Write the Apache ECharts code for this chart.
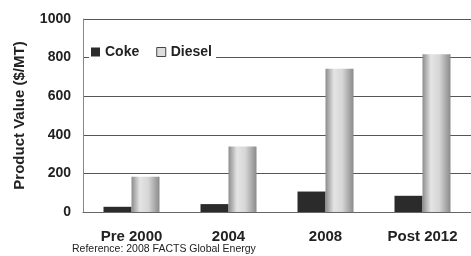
<!DOCTYPE html>
<html>
<head>
<meta charset="utf-8">
<script src="https://cdn.jsdelivr.net/npm/echarts@6/dist/echarts.min.js"></script>
<style>
    html, body { margin: 0; padding: 0; background: #fff; }
    #chart1 { width: 471px; height: 256px; }
</style>
</head>
<body>
<div id="chart1"></div>
<script>
var categories = ['Pre 2000', '2004', '2008', 'Post 2012'];
var cokeValues = [27, 41, 106, 84];
var dieselValues = [183, 339, 742, 818];
var yTicks = [0, 200, 400, 600, 800, 1000];

var myChart = echarts.init(document.getElementById('chart1'));
var fontFam = 'Liberation Sans, Arial, sans-serif';
// grey "cylinder" look of the diesel bars
var dieselFill = new echarts.graphic.LinearGradient(0, 0, 1, 0, [
    {offset: 0, color: '#8c8c8c'},
    {offset: 0.3, color: '#e4e4e4'},
    {offset: 0.6, color: '#d6d6d6'},
    {offset: 1, color: '#8a8a8a'}
]);

var option = {
    animation: false,
    backgroundColor: '#fff',
    grid: {left: 83, right: -2, top: 19, bottom: 44},
    legend: {
        left: 89, top: 43,
        itemWidth: 9, itemHeight: 9, itemGap: 17,
        backgroundColor: '#fff',
        padding: [2, 4, 2, 2],
        textStyle: {fontFamily: fontFam, fontWeight: 'bold', fontSize: 14, color: '#222'},
        data: [
            {name: 'Coke', icon: 'rect'},
            {name: 'Diesel', icon: 'rect', itemStyle: {color: '#ddd', borderColor: '#444', borderWidth: 1}}
        ]
    },
    xAxis: {
        type: 'category',
        data: categories,
        axisLine: {lineStyle: {color: '#666', width: 1}},
        axisTick: {show: false},
        axisLabel: {fontFamily: fontFam, fontWeight: 'bold', fontSize: 15, color: '#222', margin: 17}
    },
    yAxis: {
        type: 'value',
        min: yTicks[0], max: yTicks[yTicks.length - 1], interval: 200,
        name: 'Product Value ($/MT)',
        nameLocation: 'middle', nameGap: 56,
        nameTextStyle: {fontFamily: fontFam, fontWeight: 'bold', fontSize: 15, color: '#222'},
        axisLine: {show: true, lineStyle: {color: '#888', width: 1}},
        axisTick: {show: false},
        axisLabel: {fontFamily: fontFam, fontWeight: 'bold', fontSize: 14, color: '#222', margin: 12,
                    formatter: function (v) { return String(v); }},
        splitLine: {lineStyle: {color: '#555', width: 1}}
    },
    series: [
        {name: 'Coke', type: 'bar', data: cokeValues, barWidth: 28, barGap: '0%',
         itemStyle: {color: '#2b2b2b'}},
        {name: 'Diesel', type: 'bar', data: dieselValues, barWidth: 28,
         itemStyle: {color: dieselFill}}
    ],
    graphic: [
        {type: 'text', left: 72, top: 244,
         style: {text: 'Reference: 2008 FACTS Global Energy', fontFamily: fontFam, fontSize: 10.5, fill: '#222'}}
    ]
};
myChart.setOption(option);
</script>
</body>
</html>
